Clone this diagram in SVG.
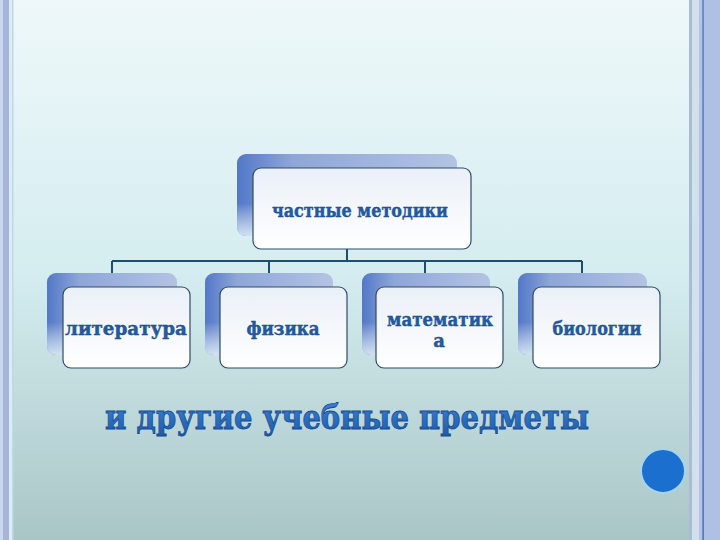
<svg xmlns="http://www.w3.org/2000/svg" width="720" height="540" viewBox="0 0 720 540">
<defs>
<linearGradient id="bg" x1="0" y1="0" x2="0" y2="1">
<stop offset="0" stop-color="#eef8fa"/>
<stop offset="0.5" stop-color="#d5edf0"/>
<stop offset="1" stop-color="#a9c6c7"/>
</linearGradient>
<linearGradient id="back" x1="0" y1="0" x2="1" y2="0">
<stop offset="0" stop-color="#5378c8"/>
<stop offset="0.25" stop-color="#8ea6d8"/>
<stop offset="1" stop-color="#b3c3e3"/>
</linearGradient>
<linearGradient id="backfade" x1="0" y1="0" x2="0" y2="1">
<stop offset="0" stop-color="#ffffff" stop-opacity="0"/>
<stop offset="0.6" stop-color="#ffffff" stop-opacity="0"/>
<stop offset="1" stop-color="#dcecf2" stop-opacity="0.9"/>
</linearGradient>
<linearGradient id="front" x1="0" y1="0" x2="0" y2="1">
<stop offset="0" stop-color="#eaf0f8"/>
<stop offset="1" stop-color="#ffffff"/>
</linearGradient>
<linearGradient id="txt" x1="0" y1="0" x2="0" y2="1">
<stop offset="0" stop-color="#3d86dc"/>
<stop offset="1" stop-color="#1c5aa8"/>
</linearGradient>
</defs>
<style>
.back{fill:url(#back)}
.fade{fill:url(#backfade)}
.front{fill:url(#front);stroke:#2e4c68;stroke-width:1.2}
.lbl{font-family:"DejaVu Serif","Liberation Serif",serif;font-weight:bold;font-size:18px;fill:#1f5da6;stroke:#163f78;stroke-width:0.4;text-anchor:middle}
.big{font-family:"DejaVu Serif","Liberation Serif",serif;font-weight:bold;font-size:34px;fill:url(#txt);stroke:#174a90;stroke-width:0.8;text-anchor:middle}
.conn{fill:none;stroke:#1c4e72;stroke-width:2}
</style>
<rect x="0" y="0" width="720" height="540" fill="url(#bg)"/>
<g id="border">
<rect x="0" y="0" width="3" height="540" fill="#c9d8ee"/>
<rect x="3" y="0" width="6" height="540" fill="#a7b5dd"/>
<rect x="9" y="0" width="3" height="540" fill="#dbecf6"/>
<rect x="12" y="0" width="1.5" height="540" fill="#c3d6e4"/>
<rect x="689" y="0" width="3" height="540" fill="#a8bdd0"/>
<rect x="692" y="0" width="7" height="540" fill="#d2e0ee"/>
<rect x="699" y="0" width="4" height="540" fill="#b4c4e4"/>
<rect x="702.5" y="0" width="1.2" height="540" fill="#2f5fb0"/>
<rect x="704" y="0" width="16" height="540" fill="#b0c0e4"/>
</g>
<g id="connectors">
<path class="conn" d="M347 249 V261 M112 261 H582 M112 261 V273 M269 261 V273 M425 261 V273 M582 261 V273"/>
</g>
<g id="node-top">
<rect class="back" x="237" y="154" width="220" height="82" rx="9"/>
<rect class="fade" x="237" y="154" width="220" height="82" rx="9"/>
<rect class="front" x="253" y="168" width="218" height="81" rx="8"/>
<text class="lbl" x="360" y="217" textLength="176" lengthAdjust="spacingAndGlyphs">частные методики</text>
</g>
<g id="node-lit">
<rect class="back" x="47" y="273" width="130" height="82" rx="9"/>
<rect class="fade" x="47" y="273" width="130" height="82" rx="9"/>
<rect class="front" x="63" y="287" width="127" height="81" rx="8"/>
<text class="lbl" x="126" y="335" textLength="122" lengthAdjust="spacingAndGlyphs">литература</text>
</g>
<g id="node-phys">
<rect class="back" x="205" y="273" width="128" height="82" rx="9"/>
<rect class="fade" x="205" y="273" width="128" height="82" rx="9"/>
<rect class="front" x="220" y="287" width="127" height="81" rx="8"/>
<text class="lbl" x="283" y="335" textLength="73" lengthAdjust="spacingAndGlyphs">физика</text>
</g>
<g id="node-math">
<rect class="back" x="362" y="273" width="128" height="82" rx="9"/>
<rect class="fade" x="362" y="273" width="128" height="82" rx="9"/>
<rect class="front" x="376" y="287" width="127" height="81" rx="8"/>
<text class="lbl" x="440" y="326" textLength="106" lengthAdjust="spacingAndGlyphs">математик</text>
<text class="lbl" x="439" y="347">а</text>
</g>
<g id="node-bio">
<rect class="back" x="518" y="273" width="129" height="82" rx="9"/>
<rect class="fade" x="518" y="273" width="129" height="82" rx="9"/>
<rect class="front" x="533" y="287" width="127" height="81" rx="8"/>
<text class="lbl" x="597" y="335" textLength="89" lengthAdjust="spacingAndGlyphs">биологии</text>
</g>
<text class="big" x="347" y="429" textLength="484" lengthAdjust="spacingAndGlyphs">и другие учебные предметы</text>
<circle cx="663" cy="471" r="22" fill="#1a6fcf" stroke="#a8d4f0" stroke-width="2"/>
</svg>
